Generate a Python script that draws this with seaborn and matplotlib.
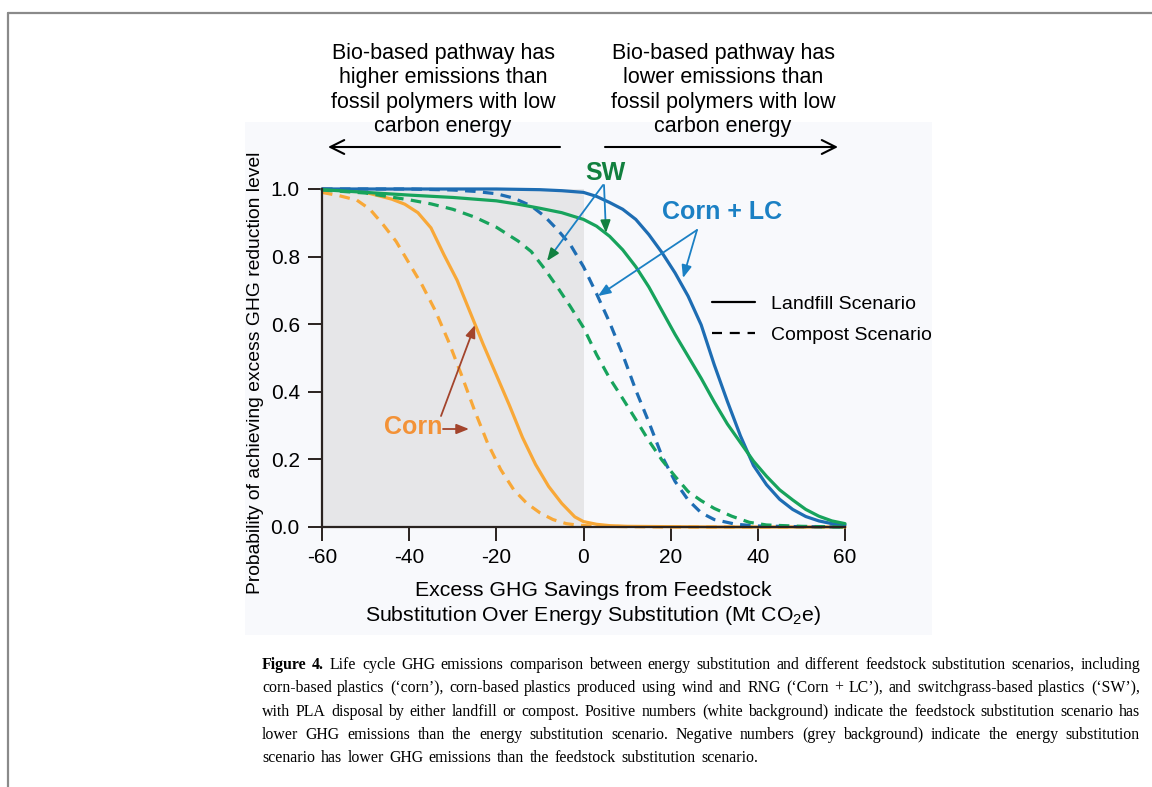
import matplotlib
matplotlib.use("Agg")
import numpy as np
import pandas as pd
import matplotlib.pyplot as plt
from matplotlib.lines import Line2D
from matplotlib.patches import Rectangle
import seaborn as sns

# ---------------- data ----------------
corn_landfill_x = [-60, -55, -50, -47, -44, -41, -38, -35, -32, -29, -26, -23, -20, -17, -14, -11, -8, -5, -2, 0, 3, 6, 10, 20, 30, 40, 50, 60]
corn_landfill_y = [1.0, 0.997, 0.99, 0.98, 0.97, 0.955, 0.93, 0.885, 0.805, 0.73, 0.635, 0.54, 0.45, 0.36, 0.265, 0.185, 0.12, 0.07, 0.03, 0.016, 0.008, 0.004, 0.002, 0.001, 0.0, 0.0, 0.0, 0.0]

corn_compost_x = [-60, -56, -52, -49, -46, -43, -40, -37, -34, -31, -28, -25, -22, -19, -16, -13, -10, -7, -4, -1, 2, 6, 10, 20, 40, 60]
corn_compost_y = [0.99, 0.98, 0.967, 0.94, 0.895, 0.845, 0.78, 0.715, 0.64, 0.55, 0.45, 0.345, 0.248, 0.17, 0.11, 0.07, 0.042, 0.022, 0.01, 0.005, 0.003, 0.002, 0.001, 0.0, 0.0, 0.0]

sw_landfill_x = [-60, -50, -40, -30, -20, -15, -10, -5, 0, 3, 6, 9, 12, 15, 18, 21, 24, 27, 30, 33, 36, 39, 42, 45, 48, 51, 54, 57, 60]
sw_landfill_y = [0.998, 0.99, 0.982, 0.975, 0.965, 0.955, 0.943, 0.93, 0.91, 0.89, 0.86, 0.82, 0.77, 0.71, 0.64, 0.57, 0.505, 0.44, 0.37, 0.305, 0.25, 0.195, 0.15, 0.11, 0.08, 0.052, 0.032, 0.018, 0.01]

sw_compost_x = [-60, -50, -45, -40, -35, -30, -25, -20, -15, -12, -9, -6, -3, 0, 3, 6, 9, 12, 15, 18, 21, 24, 27, 30, 34, 38, 42, 50, 60]
sw_compost_y = [0.997, 0.988, 0.978, 0.968, 0.956, 0.94, 0.917, 0.887, 0.846, 0.815, 0.765, 0.71, 0.652, 0.59, 0.51, 0.44, 0.38, 0.318, 0.255, 0.198, 0.15, 0.105, 0.078, 0.055, 0.032, 0.014, 0.006, 0.002, 0.0]

lc_landfill_x = [-60, -20, -10, -5, 0, 3, 6, 9, 12, 15, 18, 21, 24, 27, 30, 33, 36, 39, 42, 45, 48, 51, 54, 57, 60]
lc_landfill_y = [1.0, 1.0, 0.998, 0.995, 0.99, 0.978, 0.96, 0.94, 0.91, 0.865, 0.812, 0.752, 0.683, 0.598, 0.48, 0.372, 0.27, 0.182, 0.125, 0.082, 0.052, 0.031, 0.018, 0.01, 0.006]

lc_compost_x = [-60, -40, -30, -25, -20, -16, -12, -9, -6, -3, 0, 3, 6, 9, 12, 15, 18, 21, 24, 27, 30, 35, 40, 50, 60]
lc_compost_y = [1.0, 1.0, 0.997, 0.993, 0.986, 0.973, 0.95, 0.92, 0.88, 0.835, 0.77, 0.69, 0.605, 0.51, 0.405, 0.31, 0.21, 0.135, 0.08, 0.042, 0.022, 0.008, 0.003, 0.001, 0.0]

x_ticks = [-60, -40, -20, 0, 20, 40, 60]
x_tick_labels = ["-60", "-40", "-20", "0", "20", "40", "60"]
y_ticks = [0.0, 0.2, 0.4, 0.6, 0.8, 1.0]
y_tick_labels = ["0.0", "0.2", "0.4", "0.6", "0.8", "1.0"]

feedstocks = ["Corn", "Corn + LC", "SW"]
disposals = ["Landfill", "Compost"]
legend_labels = ["Landfill Scenario", "Compost Scenario"]

left_note = "Bio-based pathway has\nhigher emissions than\nfossil polymers with low\ncarbon energy"
right_note = "Bio-based pathway has\nlower emissions than\nfossil polymers with low\ncarbon energy"
x_label = "Excess GHG Savings from Feedstock\nSubstitution Over Energy Substitution (Mt CO$_2$e)"
y_label = "Probability of achieving excess GHG reduction level"

caption_lines = [
    "Figure 4.  Life cycle GHG emissions comparison between energy substitution and different feedstock substitution scenarios, including",
    "corn-based plastics (\u2018corn\u2019), corn-based plastics produced using wind and RNG (\u2018Corn + LC\u2019), and switchgrass-based plastics (\u2018SW\u2019),",
    "with PLA disposal by either landfill or compost. Positive numbers (white background) indicate the feedstock substitution scenario has",
    "lower GHG emissions than the energy substitution scenario. Negative numbers (grey background) indicate the energy substitution",
    "scenario has lower GHG emissions than the feedstock substitution scenario.",
]

# ---------------- style ----------------
sns.set_style("ticks")
plt.rcParams["font.family"] = ["Liberation Sans", "DejaVu Sans"]
plt.rcParams["mathtext.fontset"] = "custom"
plt.rcParams["mathtext.rm"] = "Liberation Sans"
plt.rcParams["mathtext.it"] = "Liberation Sans:italic"
plt.rcParams["mathtext.bf"] = "Liberation Sans:bold"
plt.rcParams["text.color"] = "black"
plt.rcParams["axes.labelcolor"] = "black"
plt.rcParams["xtick.color"] = "black"
plt.rcParams["ytick.color"] = "black"

W, H = 1152, 787
fig = plt.figure(figsize=(W / 100, H / 100), dpi=100)
fig.patch.set_facecolor("white")


def fx(px):
    return px / W


def fy(py):
    return 1 - py / H


def P(px, py):
    return (px, H - py)


# panel background and figure frame
bg = Rectangle((fx(245), fy(635)), fx(932) - fx(245), fy(122) - fy(635),
               transform=fig.transFigure, facecolor="#f8f9fc",
               edgecolor="none", zorder=-5)
fig.patches.append(bg)
fig.add_artist(Line2D([fx(8), fx(8)], [0, fy(13)], color="#8a8a8a", lw=1.6, zorder=-4))
fig.add_artist(Line2D([fx(8), 1], [fy(13), fy(13)], color="#8a8a8a", lw=1.6, zorder=-4))

ax = fig.add_axes([fx(322), fy(527), fx(845) - fx(322), fy(189) - fy(527)])
ax.set_facecolor("none")
ax.set_zorder(1)

# grey region (negative savings)
ax.axvspan(x_ticks[0], 0, color="#e6e6e8", zorder=0, lw=0)

series = [
    ("Corn", "Landfill", corn_landfill_x, corn_landfill_y),
    ("Corn", "Compost", corn_compost_x, corn_compost_y),
    ("SW", "Compost", sw_compost_x, sw_compost_y),
    ("SW", "Landfill", sw_landfill_x, sw_landfill_y),
    ("Corn + LC", "Compost", lc_compost_x, lc_compost_y),
    ("Corn + LC", "Landfill", lc_landfill_x, lc_landfill_y),
]
df = pd.concat([pd.DataFrame({"x": xs, "y": ys, "feedstock": f, "disposal": d})
                for f, d, xs, ys in series], ignore_index=True)

palette = {"Corn": "#f8a838", "Corn + LC": "#1e6db3", "SW": "#17a35c"}
sns.lineplot(data=df, x="x", y="y", hue="feedstock", style="disposal",
             hue_order=feedstocks, style_order=disposals,
             palette=palette, dashes={"Landfill": "", "Compost": (3.3, 2.3)},
             estimator=None, lw=2.3, legend=False, ax=ax)
for ln in ax.lines:
    ln.set_clip_on(False)
    ln.set_solid_joinstyle("round")

ax.set_xlim(x_ticks[0], x_ticks[-1])
ax.set_ylim(y_ticks[0], y_ticks[-1])
ax.set_xticks(x_ticks)
ax.set_xticklabels(x_tick_labels)
ax.set_yticks(y_ticks)
ax.set_yticklabels(y_tick_labels)
ax.set_xlabel("")
ax.set_ylabel("")
sns.despine(ax=ax)
spc = "#2a2320"
for s in ["left", "bottom"]:
    ax.spines[s].set_linewidth(1.6)
    ax.spines[s].set_color(spc)
ax.tick_params(axis="both", length=10, width=1.4, color=spc, labelsize=15,
               labelcolor="black")
ax.tick_params(axis="x", pad=5)
ax.tick_params(axis="y", pad=6)

# axis labels
fig.text(fx(593), fy(604), x_label, ha="center", va="center", fontsize=15.3,
         linespacing=1.2)
fig.text(fx(255), fy(373), y_label, ha="center", va="center", fontsize=13.9,
         rotation=90)

# top notes and arrows
fig.text(fx(443), fy(90), left_note, ha="center", va="center", fontsize=15.5,
         linespacing=1.2)
fig.text(fx(723), fy(90), right_note, ha="center", va="center", fontsize=15.5,
         linespacing=1.2)
big_arrow = dict(arrowstyle="->,head_length=1.0,head_width=0.5", lw=1.5, color="black",
                 shrinkA=0, shrinkB=0)
ax.annotate("", xy=P(328, 147), xytext=P(560, 147), xycoords="figure pixels",
            textcoords="figure pixels", arrowprops=big_arrow, annotation_clip=False)
ax.annotate("", xy=P(838, 147), xytext=P(605, 147), xycoords="figure pixels",
            textcoords="figure pixels", arrowprops=big_arrow, annotation_clip=False)

# series labels with pointer arrows
c_sw, c_lc, c_corn, c_br = "#12803f", "#1b80c4", "#f39237", "#a3442c"
ax.text(*P(605, 173), "SW", color=c_sw, fontsize=18, fontweight="bold",
        ha="center", va="center", transform=None)
ax.text(*P(722, 212), "Corn + LC", color=c_lc, fontsize=18, fontweight="bold",
        ha="center", va="center", transform=None)
ax.text(*P(413, 427), "Corn", color=c_corn, fontsize=18, fontweight="bold",
        ha="center", va="center", transform=None)


def pointer(start, tip, shaft_color, head_color, lw=1.3):
    sx, sy = start
    tx, ty = tip
    d = np.hypot(tx - sx, ty - sy)
    ux, uy = (tx - sx) / d, (ty - sy) / d
    hx, hy = tx - ux * 10, ty - uy * 10
    ax.annotate("", xy=P(hx, hy), xytext=P(sx, sy), xycoords="figure pixels",
                textcoords="figure pixels", annotation_clip=False,
                arrowprops=dict(arrowstyle="-", lw=lw, color=shaft_color,
                                shrinkA=0, shrinkB=0))
    ax.annotate("", xy=P(tx, ty), xytext=P(hx + ux * 0.5, hy + uy * 0.5),
                xycoords="figure pixels", textcoords="figure pixels",
                annotation_clip=False,
                arrowprops=dict(arrowstyle="-|>,head_length=0.75,head_width=0.3",
                                lw=lw, color=head_color, shrinkA=0, shrinkB=0))


pointer((603, 185), (547, 261), c_lc, c_sw)
pointer((604, 185), (606, 233), c_lc, c_sw)
pointer((697, 230), (683, 278), c_lc, c_lc)
pointer((697, 230), (598, 296), c_lc, c_lc)
pointer((441, 416), (475, 325), c_br, c_br)
pointer((443, 429), (469, 429), c_br, c_br)

# legend (line style = disposal scenario)
handles = [Line2D([], [], color="black", lw=1.6, linestyle="-"),
           Line2D([], [], color="black", lw=1.6, dashes=(4.5, 3.5))]
leg = ax.legend(handles, legend_labels, loc="upper left",
                bbox_to_anchor=(fx(712), fy(295)), bbox_transform=fig.transFigure,
                frameon=False, fontsize=14, handlelength=2.2, handletextpad=0.85,
                labelspacing=0.71, borderpad=0, borderaxespad=0)

# caption, justified word by word
renderer = fig.canvas.get_renderer()
cap_left, cap_right = 262, 1140
baselines = [669, 692, 715.5, 739, 762]
cap_font = ["Liberation Serif", "DejaVu Serif"]
cap_size = 11.4
for i, line in enumerate(caption_lines):
    words = line.split()
    texts = []
    for j, w in enumerate(words):
        bold = (i == 0 and j < 2)
        t = fig.text(0, 0, w, fontsize=cap_size, family=cap_font,
                     fontweight="bold" if bold else "normal",
                     ha="left", va="baseline")
        texts.append(t)
    widths = [t.get_window_extent(renderer).width for t in texts]
    if i < len(caption_lines) - 1:
        gap = (cap_right - cap_left - sum(widths)) / (len(words) - 1)
    else:
        gap = 5.5
    xpos = cap_left
    for j, (t, w) in enumerate(zip(texts, widths)):
        t.set_position((fx(xpos), fy(baselines[i])))
        xpos += w + gap

fig.savefig("out.png", dpi=100, facecolor="white")
